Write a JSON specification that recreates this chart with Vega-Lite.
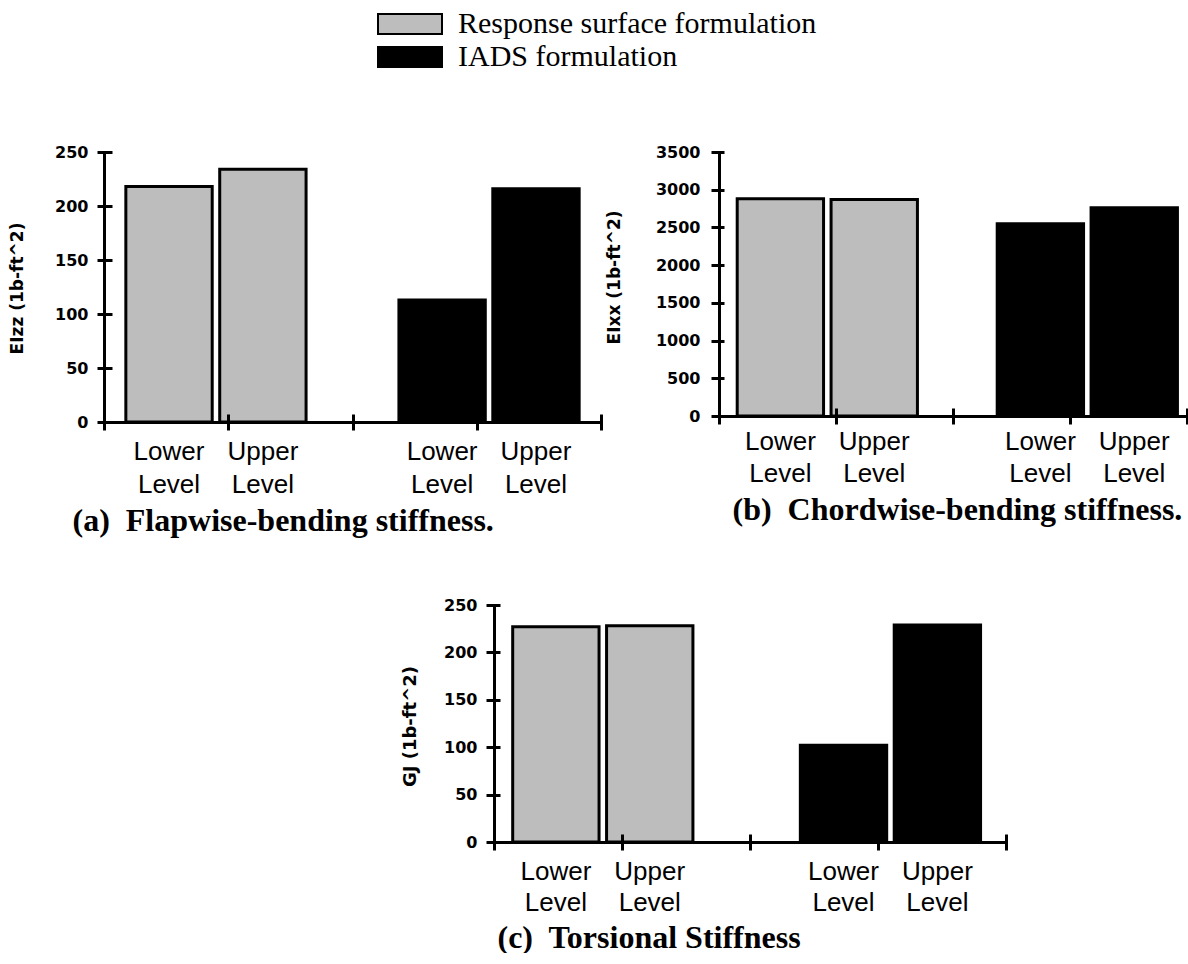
{
  "$schema": "https://vega.github.io/schema/vega-lite/v6.json",
  "padding": {"left": 8, "top": 7, "right": 0, "bottom": 0},
  "bounds": "flush",
  "spacing": 453,
  "data": {"values": [
    {"panel": "a", "formulation": "Response surface formulation", "level": "Lower", "bar": "RS Lower", "label": "Lower\nLevel", "value": 218},
    {"panel": "a", "formulation": "Response surface formulation", "level": "Upper", "bar": "RS Upper", "label": "Upper\nLevel", "value": 234},
    {"panel": "a", "formulation": "IADS formulation", "level": "Lower", "bar": "IADS Lower", "label": "Lower\nLevel", "value": 113},
    {"panel": "a", "formulation": "IADS formulation", "level": "Upper", "bar": "IADS Upper", "label": "Upper\nLevel", "value": 216},
    {"panel": "b", "formulation": "Response surface formulation", "level": "Lower", "bar": "RS Lower", "label": "Lower\nLevel", "value": 2880},
    {"panel": "b", "formulation": "Response surface formulation", "level": "Upper", "bar": "RS Upper", "label": "Upper\nLevel", "value": 2870},
    {"panel": "b", "formulation": "IADS formulation", "level": "Lower", "bar": "IADS Lower", "label": "Lower\nLevel", "value": 2550},
    {"panel": "b", "formulation": "IADS formulation", "level": "Upper", "bar": "IADS Upper", "label": "Upper\nLevel", "value": 2760},
    {"panel": "c", "formulation": "Response surface formulation", "level": "Lower", "bar": "RS Lower", "label": "Lower\nLevel", "value": 227},
    {"panel": "c", "formulation": "Response surface formulation", "level": "Upper", "bar": "RS Upper", "label": "Upper\nLevel", "value": 228},
    {"panel": "c", "formulation": "IADS formulation", "level": "Lower", "bar": "IADS Lower", "label": "Lower\nLevel", "value": 102},
    {"panel": "c", "formulation": "IADS formulation", "level": "Upper", "bar": "IADS Upper", "label": "Upper\nLevel", "value": 229}
  ]},
  "vconcat": [
    {
      "bounds": "flush",
      "spacing": 118,
      "hconcat": [
        {
          "width": 497, "height": 270,
          "transform": [{"filter": "datum.panel === 'a'"}],
          "layer": [
            {
              "encoding": {
                "x": {"field": "formulation", "type": "nominal", "sort": ["Response surface formulation", "IADS formulation"],
                  "scale": {"type": "band", "paddingInner": 0.34, "paddingOuter": 0.08},
                  "axis": {"orient": "bottom", "labels": false, "ticks": false, "title": "(a)\u00a0 Flapwise-bending stiffness.", "titleX": -32, "titleY": 108, "titleAlign": "left", "titleAnchor": "start", "titleBaseline": "alphabetic", "titleFont": "Liberation Serif", "titleFontWeight": "bold", "titleFontSize": 32}},
                "xOffset": {"field": "level", "type": "nominal", "sort": ["Lower", "Upper"], "scale": {"paddingInner": 0.08}}
              },
              "layer": [
                {
                  "mark": {"type": "bar", "stroke": "black", "strokeWidth": 3},
                  "encoding": {
                    "y": {"field": "value", "type": "quantitative", "scale": {"domain": [0, 250], "nice": false},
                      "axis": {"orient": "left", "title": "EIzz (1b-ft^2)", "titleFontSize": 17, "values": [0, 50, 100, 150, 200, 250], "format": "d", "labelOverlap": false, "ticks": false, "labelPadding": 16, "titleX": -87, "titleY": 136, "titleAngle": 270, "titleAlign": "center", "titleBaseline": "middle"}},
                    "fill": {"field": "formulation", "type": "nominal", "sort": ["Response surface formulation", "IADS formulation"],
                      "scale": {"domain": ["Response surface formulation", "IADS formulation"], "range": ["#bdbdbd", "#000000"]},
                      "legend": {"orient": "none", "legendX": 289, "legendY": -145, "title": null, "padding": 0, "labelFont": "Liberation Serif", "labelFontSize": 30, "labelColor": "black", "labelLimit": 1000, "symbolType": "M-2,-0.625H2V0.625H-2Z", "symbolSize": 1024, "symbolStrokeColor": "black", "symbolStrokeWidth": 2, "symbolOpacity": 1, "labelOffset": 31, "rowPadding": 1}}
                  }
                },
                {
                  "mark": {"type": "text", "baseline": "alphabetic", "dy": 38, "lineBreak": "\n", "lineHeight": 33, "font": "Liberation Sans", "fontSize": 26, "color": "black"},
                  "encoding": {"y": {"datum": 0}, "text": {"field": "label"}}
                }
              ]
            },
            {
              "mark": {"type": "point", "opacity": 0},
              "encoding": {
                "x": {"field": "bar", "type": "nominal", "sort": ["RS Lower", "RS Upper", "IADS Lower", "IADS Upper"],
                  "scale": {"type": "band", "paddingInner": 0, "paddingOuter": 0},
                  "axis": {"orient": "bottom", "offset": -8, "tickSize": 16, "tickBand": "extent", "labels": false, "domain": false, "title": null, "zindex": 1}},
                "y": {"datum": 0, "type": "quantitative", "scale": {"domain": [0, 250], "nice": false},
                  "axis": {"orient": "left", "offset": -8, "tickSize": 15, "values": [0, 50, 100, 150, 200, 250], "labels": false, "domain": false, "title": null}}
              }
            }
          ],
          "resolve": {"scale": {"x": "independent", "y": "independent"}, "axis": {"x": "independent", "y": "independent"}}
        },
        {
          "width": 468, "height": 264,
          "transform": [{"filter": "datum.panel === 'b'"}],
          "layer": [
            {
              "encoding": {
                "x": {"field": "formulation", "type": "nominal", "sort": ["Response surface formulation", "IADS formulation"],
                  "scale": {"type": "band", "paddingInner": 0.34, "paddingOuter": 0.07},
                  "axis": {"orient": "bottom", "labels": false, "ticks": false, "title": "(b)\u00a0 Chordwise-bending stiffness.", "titleX": 13, "titleY": 103, "titleAlign": "left", "titleAnchor": "start", "titleBaseline": "alphabetic", "titleFont": "Liberation Serif", "titleFontWeight": "bold", "titleFontSize": 32}},
                "xOffset": {"field": "level", "type": "nominal", "sort": ["Lower", "Upper"], "scale": {"paddingInner": 0.07}}
              },
              "layer": [
                {
                  "mark": {"type": "bar", "stroke": "black", "strokeWidth": 3},
                  "encoding": {
                    "y": {"field": "value", "type": "quantitative", "scale": {"domain": [0, 3500], "nice": false},
                      "axis": {"orient": "left", "title": "EIxx (1b-ft^2)", "titleFontSize": 17, "values": [0, 500, 1000, 1500, 2000, 2500, 3000, 3500], "labels": false, "ticks": false, "titleX": -105, "titleY": 125, "titleAngle": 270, "titleAlign": "center", "titleBaseline": "middle"}},
                    "fill": {"field": "formulation", "type": "nominal", "sort": ["Response surface formulation", "IADS formulation"],
                      "scale": {"domain": ["Response surface formulation", "IADS formulation"], "range": ["#bdbdbd", "#000000"]}, "legend": null}
                  }
                },
                {
                  "mark": {"type": "text", "baseline": "alphabetic", "dy": 34, "lineBreak": "\n", "lineHeight": 32, "font": "Liberation Sans", "fontSize": 26, "color": "black"},
                  "encoding": {"y": {"datum": 0}, "text": {"field": "label"}}
                }
              ]
            },
            {
              "mark": {"type": "point", "opacity": 0},
              "encoding": {
                "x": {"field": "bar", "type": "nominal", "sort": ["RS Lower", "RS Upper", "IADS Lower", "IADS Upper"],
                  "scale": {"type": "band", "paddingInner": 0, "paddingOuter": 0},
                  "axis": {"orient": "bottom", "offset": -8, "tickSize": 16, "tickBand": "extent", "labels": false, "domain": false, "title": null, "zindex": 1}},
                "y": {"datum": 0, "type": "quantitative", "scale": {"domain": [0, 3500], "nice": false},
                  "axis": {"orient": "left", "offset": -5, "tickSize": 13, "values": [0, 500, 1000, 1500, 2000, 2500, 3000, 3500], "format": "d", "labels": true, "labelOverlap": false, "labelPadding": 11, "domain": false, "title": null}}
              }
            }
          ],
          "resolve": {"scale": {"x": "independent", "y": "independent"}, "axis": {"x": "independent", "y": "independent"}}
        }
      ]
    },
    {
      "bounds": "flush",
      "spacing": 0,
      "hconcat": [
        {"width": 390, "height": 1, "transform": [{"filter": "datum.panel === 'zz'"}], "mark": {"type": "point", "opacity": 0}, "encoding": {}},
        {
          "width": 512, "height": 237,
          "transform": [{"filter": "datum.panel === 'c'"}],
          "layer": [
            {
              "encoding": {
                "x": {"field": "formulation", "type": "nominal", "sort": ["Response surface formulation", "IADS formulation"],
                  "scale": {"type": "band", "paddingInner": 0.35, "paddingOuter": 0.065},
                  "axis": {"orient": "bottom", "labels": false, "ticks": false, "title": "(c)\u00a0 Torsional Stiffness", "titleX": 3, "titleY": 105, "titleAlign": "left", "titleAnchor": "start", "titleBaseline": "alphabetic", "titleFont": "Liberation Serif", "titleFontWeight": "bold", "titleFontSize": 32}},
                "xOffset": {"field": "level", "type": "nominal", "sort": ["Lower", "Upper"], "scale": {"paddingInner": 0.075}}
              },
              "layer": [
                {
                  "mark": {"type": "bar", "stroke": "black", "strokeWidth": 3},
                  "encoding": {
                    "y": {"field": "value", "type": "quantitative", "scale": {"domain": [0, 250], "nice": false},
                      "axis": {"orient": "left", "title": "GJ (1b-ft^2)", "titleFontSize": 18, "values": [0, 50, 100, 150, 200, 250], "format": "d", "labelOverlap": false, "ticks": false, "labelPadding": 17, "titleX": -84, "titleY": 121, "titleAngle": 270, "titleAlign": "center", "titleBaseline": "middle"}},
                    "fill": {"field": "formulation", "type": "nominal", "sort": ["Response surface formulation", "IADS formulation"],
                      "scale": {"domain": ["Response surface formulation", "IADS formulation"], "range": ["#bdbdbd", "#000000"]}, "legend": null}
                  }
                },
                {
                  "mark": {"type": "text", "baseline": "alphabetic", "dy": 38, "lineBreak": "\n", "lineHeight": 31, "font": "Liberation Sans", "fontSize": 26, "color": "black"},
                  "encoding": {"y": {"datum": 0}, "text": {"field": "label"}}
                }
              ]
            },
            {
              "mark": {"type": "point", "opacity": 0},
              "encoding": {
                "x": {"field": "bar", "type": "nominal", "sort": ["RS Lower", "RS Upper", "IADS Lower", "IADS Upper"],
                  "scale": {"type": "band", "paddingInner": 0, "paddingOuter": 0},
                  "axis": {"orient": "bottom", "offset": -8, "tickSize": 16, "tickBand": "extent", "labels": false, "domain": false, "title": null, "zindex": 1}},
                "y": {"datum": 0, "type": "quantitative", "scale": {"domain": [0, 250], "nice": false},
                  "axis": {"orient": "left", "offset": -6, "tickSize": 14, "values": [0, 50, 100, 150, 200, 250], "labels": false, "domain": false, "title": null}}
              }
            }
          ],
          "resolve": {"scale": {"x": "independent", "y": "independent"}, "axis": {"x": "independent", "y": "independent"}}
        }
      ]
    }
  ],
  "config": {
    "view": {"stroke": null},
    "background": "white",
    "axis": {"grid": false, "labelOverlap": false, "domainColor": "black", "domainWidth": 3, "tickColor": "black", "tickWidth": 3, "labelColor": "black", "titleColor": "black", "labelFont": "DejaVu Sans", "labelFontWeight": "bold", "labelFontSize": 16, "titleFont": "DejaVu Sans", "titleFontWeight": "bold", "titleFontSize": 14}
  }
}
